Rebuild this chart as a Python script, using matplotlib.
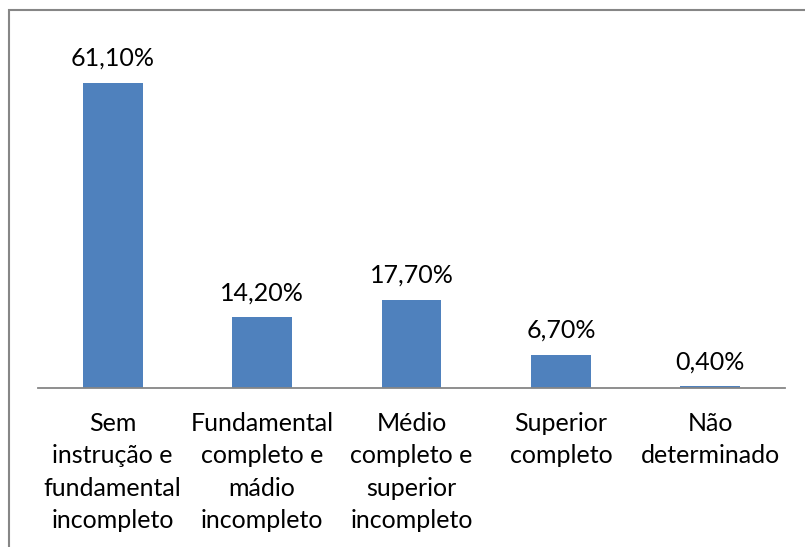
import matplotlib.pyplot as plt
from matplotlib.patches import Rectangle

# escolaridade (percentual por nível)
categorias = [
    "Sem\ninstrução e\nfundamental\nincompleto",
    "Fundamental\ncompleto e\nmádio\nincompleto",
    "Médio\ncompleto e\nsuperior\nincompleto",
    "Superior\ncompleto",
    "Não\ndeterminado",
]
valores = [61.1, 14.2, 17.7, 6.7, 0.4]
rotulos = ["61,10%", "14,20%", "17,70%", "6,70%", "0,40%"]

plt.rcParams["font.family"] = ["Lato", "DejaVu Sans"]

W, H = 805, 547
fig = plt.figure(figsize=(W / 100, H / 100), dpi=100)
ax = fig.add_axes([38 / W, 1 - 388 / H, (785 - 38) / W, 350 / H])

x = range(len(valores))
ax.bar(x, valores, width=0.4, color="#4F81BD")
ax.set_xlim(-0.5, len(valores) - 0.5)
ax.set_ylim(0, 70)

for xi, v, r in zip(x, valores, rotulos):
    ax.text(xi, v + 3.3, r, ha="center", va="baseline", fontsize=18, color="#000000")

ax.set_xticks(list(x))
ax.set_xticklabels(categorias, fontsize=18, linespacing=1.5, va="top")
ax.tick_params(axis="x", length=0, pad=17)
ax.set_yticks([])

for s in ["top", "right", "left"]:
    ax.spines[s].set_visible(False)
ax.spines["bottom"].set_color("#868686")
ax.spines["bottom"].set_linewidth(1.3)

# moldura do gráfico
fig.patches.append(Rectangle((9 / W, -0.05), 1.1, 1 - 10 / H + 0.05,
                             transform=fig.transFigure, fill=False,
                             edgecolor="#868686", linewidth=1.5))

fig.savefig("out.png", dpi=100)
